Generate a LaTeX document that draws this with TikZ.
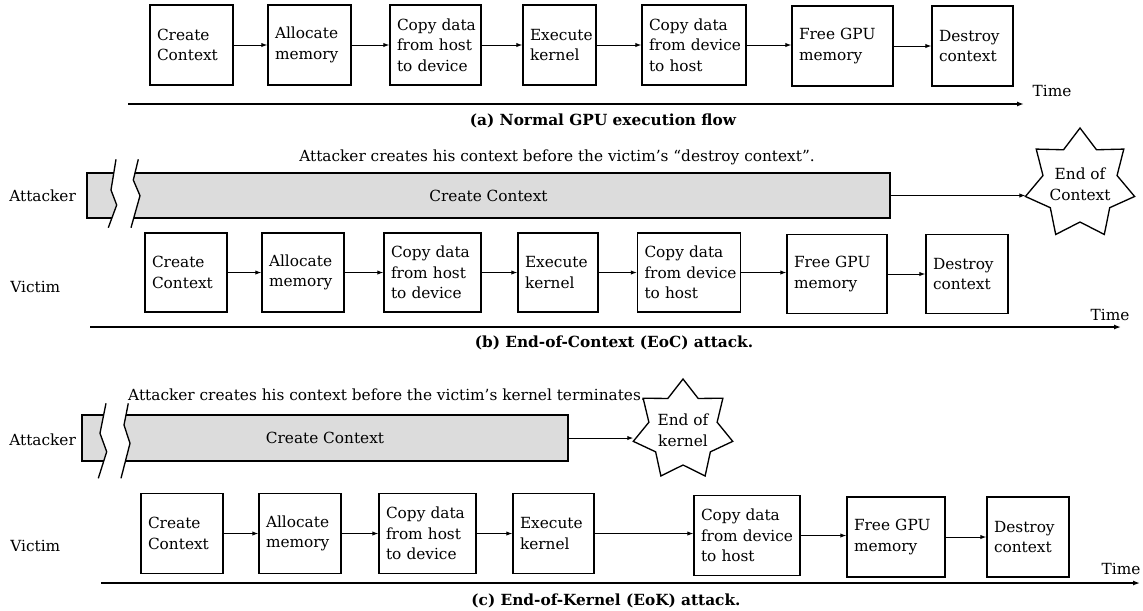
\documentclass[tikz,border=0pt]{standalone}
\usepackage{fontspec}
\setmainfont{DejaVu Serif}
\usetikzlibrary{arrows.meta}
\hyphenpenalty=10000
\exhyphenpenalty=10000

\definecolor{barfill}{RGB}{220,220,220}

\tikzset{
  txt/.style={font=\fontsize{9.2}{12.4}\selectfont, inner sep=0pt},
  stepbox/.style={draw, line width=0.8pt, txt, align=left, inner xsep=4.2pt, inner ysep=0pt},
  rowa/.style={stepbox, minimum height=48pt},
  rowb/.style={stepbox, minimum height=47.4pt},
  rowc/.style={stepbox, minimum height=48pt},
  flow/.style={line width=0.6pt, -{Latex[length=3.6pt,width=2.6pt]}},
  timeline/.style={line width=0.9pt, -{Latex[length=4.2pt,width=3pt]}},
  caption/.style={inner sep=0pt, font=\fontsize{9.2}{12.4}\selectfont\bfseries},
  attbar/.style={draw, fill=barfill, line width=0.8pt, txt},
  burstline/.style={line width=0.8pt, line join=miter},
  bursttext/.style={txt, align=center},
  breakline/.style={line width=0.8pt},
}

% seven-pointed burst around a named centre: #1 centre, #2 outer radius, #3 inner radius
% (the y axis points down, so -90 degrees is straight up)
\newcommand\burstshape[3]{%
  \draw[burstline] ([shift={(-90:#2)}]#1)
    \foreach \k in {1,...,6} {
      -- ([shift={(-90+\k*51.4286-25.7143:#3)}]#1)
      -- ([shift={(-90+\k*51.4286:#2)}]#1)
    }
    -- ([shift={(-90+7*51.4286-25.7143:#3)}]#1) -- cycle;
}

\begin{document}
\begin{tikzpicture}[x=0.6pt,y=-0.6pt]
\useasboundingbox (0,0) rectangle (1143,610);

% ---------- (a) normal execution flow ----------
\node[rowa, text width=41.4pt] (a1) at (191.5,45) {Create\\Context};
\node[rowa, text width=41.4pt] (a2) at (309.5,45) {Allocate\\memory};
\node[rowa, text width=46.2pt] (a3) at (435.5,45) {Copy~data\\from~host\\to~device};
\node[rowa, text width=35.4pt] (a4) at (559.5,45) {Execute\\kernel};
\node[rowa, text width=54pt]   (a5) at (694,45)   {Copy~data\\from~device\\to~host};
\node[rowa, text width=52.2pt] (a6) at (842.5,46) {Free~GPU\\memory};
\node[rowa, text width=40.2pt] (a7) at (972.5,46) {Destroy\\context};
\foreach \p/\q in {a1/a2,a2/a3,a3/a4,a4/a5,a5/a6,a6/a7}
  \draw[flow] (\p.east) -- (\p.east -| \q.west);

\coordinate (ta0) at (128,104);
\coordinate (ta1) at (1024,104);
\draw[timeline] (ta0) -- (ta1);
\node[txt] (timea) at (1052,91) {Time};
\node[caption] (capa) at (603,121) {(a) Normal GPU execution flow};

% ---------- (b) end-of-context attack ----------
\node[txt] (bnote) at (557,157) {Attacker creates his context before the victim’s “destroy context”.};
\node[txt, anchor=west] (batt) at (9,196) {Attacker};
\node[attbar, minimum width=481.8pt, minimum height=27pt] (bbar) at (488.5,195.5) {Create Context};
\fill[white] (116,159.3) -- (111,190) -- (116.7,205) -- (108.3,227.7)
  -- (131,227.7) -- (140,195.7) -- (133.3,180) -- (138.3,159.3) -- cycle;
\draw[breakline] (116,159.3) -- (111,190) -- (116.7,205) -- (108.3,227.7);
\draw[breakline] (138.3,159.3) -- (133.3,180) -- (140,195.7) -- (131,227.7);

\coordinate (bsc) at (1080,184);
\burstshape{bsc}{56}{38}
\node[bursttext] (bstar) at (bsc) {End of\\Context};
\coordinate (bsleft) at ([shift={(167.1429:56)}]bsc);
\draw[flow] (bbar.east) -- (bbar.east -| bsleft);

\node[txt, anchor=west] (bvic) at (10,287) {Victim};
\node[rowb, text width=40.8pt] (b1) at (186,272.5)   {Create\\Context};
\node[rowb, text width=40.8pt] (b2) at (303,272.5)   {Allocate\\memory};
\node[rowb, text width=49.8pt] (b3) at (432.5,272.5) {Copy~data\\from~host\\to~device};
\node[rowb, text width=39.6pt] (b4) at (558,272.5)   {Execute\\kernel};
\node[rowb, text width=53.4pt] (b5) at (689,272.5)   {Copy~data\\from~device\\to~host};
\node[rowb, text width=51.6pt] (b6) at (837,274)     {Free~GPU\\memory};
\node[rowb, text width=40.8pt] (b7) at (967,274)     {Destroy\\context};
\foreach \p/\q in {b1/b2,b2/b3,b3/b4,b4/b5,b5/b6,b6/b7}
  \draw[flow] (\p.east) -- (\p.east -| \q.west);

\coordinate (tb0) at (90,327);
\coordinate (tb1) at (1121,327);
\draw[timeline] (tb0) -- (tb1);
\node[txt] (timeb) at (1110,315) {Time};
\node[caption] (capb) at (614,343) {(b) End-of-Context (EoC) attack.};

% ---------- (c) end-of-kernel attack ----------
\node[txt] (cnote) at (387,395) {Attacker creates his context before the victim’s kernel terminates.};
\node[txt, anchor=west] (catt) at (9,440) {Attacker};
\node[attbar, minimum width=291.6pt, minimum height=27.6pt] (cbar) at (325,438) {Create Context};
\fill[white] (106,403.3) -- (100,433.3) -- (106.7,451.7) -- (98.3,478.3)
  -- (121,478.3) -- (130,443.3) -- (124,425) -- (128.3,403.3) -- cycle;
\draw[breakline] (106,403.3) -- (100,433.3) -- (106.7,451.7) -- (98.3,478.3);
\draw[breakline] (128.3,403.3) -- (124,425) -- (130,443.3) -- (121,478.3);

\coordinate (csc) at (683,430);
\burstshape{csc}{51}{35}
\node[bursttext] (cstar) at (csc) {End of\\kernel};
\coordinate (csleft) at ([shift={(167.1429:51)}]csc);
\draw[flow] (cbar.east) -- (cbar.east -| csleft);

\node[txt, anchor=west] (cvic) at (10,546) {Victim};
\node[rowc, text width=40.8pt] (c1) at (182,533.5)   {Create\\Context};
\node[rowc, text width=40.8pt] (c2) at (300,533.5)   {Allocate\\memory};
\node[rowc, text width=49.8pt] (c3) at (427.5,533.5) {Copy~data\\from~host\\to~device};
\node[rowc, text width=40.2pt] (c4) at (553.5,533.5) {Execute\\kernel};
\node[rowc, text width=55.2pt] (c5) at (747,535.5)   {Copy~data\\from~device\\to~host};
\node[rowc, text width=50.4pt] (c6) at (896,537)     {Free~GPU\\memory};
\node[rowc, text width=40.8pt] (c7) at (1028,537)    {Destroy\\context};
\foreach \p/\q in {c1/c2,c2/c3,c3/c4,c4/c5,c5/c6,c6/c7}
  \draw[flow] (\p.east) -- (\p.east -| \q.west);

\coordinate (tc0) at (101,583);
\coordinate (tc1) at (1140,583);
\draw[timeline] (tc0) -- (tc1);
\node[txt] (timec) at (1121,569) {Time};
\node[caption] (capc) at (606,601) {(c) End-of-Kernel (EoK) attack.};
\end{tikzpicture}
\end{document}
